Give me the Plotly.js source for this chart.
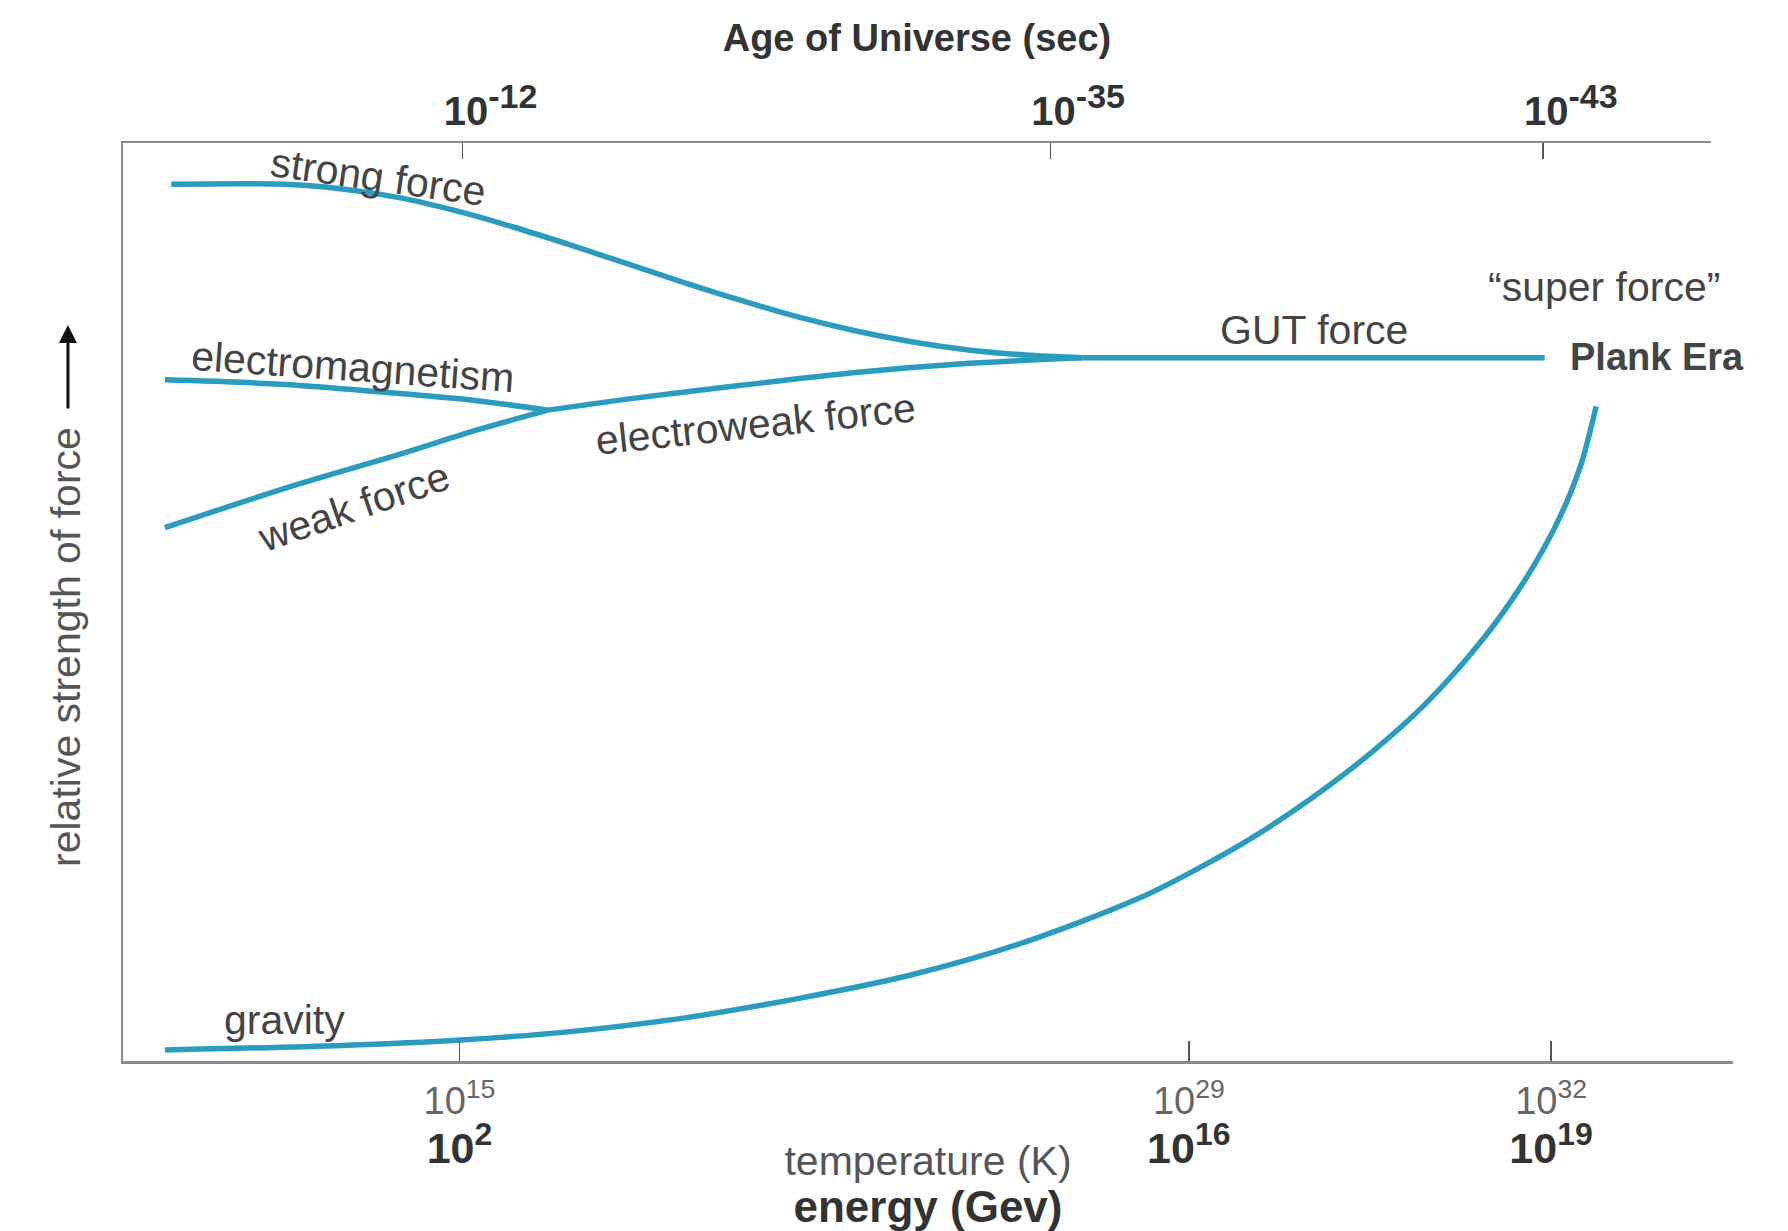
<!DOCTYPE html>
<html>
<head>
<meta charset="utf-8">
<script src="https://cdn.plot.ly/plotly-3.0.1.min.js"></script>
<style>html,body{margin:0;padding:0;background:#fff;}#chart{width:1788px;height:1231px;}</style>
</head>
<body>
<div id="chart"></div>
<script>
// ---- data (schematic units: x 0-100 across the plot, y 0-100 relative strength) ----
const xStrong = [3.0, 10.1, 13.64, 17.17, 20.71, 24.24, 27.78, 31.31, 34.85, 38.39, 41.92, 45.46, 48.99, 52.53, 56.06, 59.6];
const yStrong = [95.5, 95.5, 95.0, 94.05, 92.6, 90.85, 88.9, 86.85, 84.8, 82.85, 81.05, 79.55, 78.35, 77.45, 76.9, 76.6];

const xEM = [2.6, 10.1, 17.2, 22.1, 26.4];
const yEM = [74.2, 73.7, 72.7, 71.9, 70.9];

const xWeak = [2.6, 10.1, 17.2, 22.1, 26.4];
const yWeak = [58.1, 62.4, 66.1, 68.8, 70.9];

const xEW = [26.4, 31.3, 38.4, 45.5, 52.6, 59.6];
const yEW = [70.9, 72.1, 73.6, 75.0, 76.0, 76.6];

const xGUT = [59.6, 88.3];
const yGUT = [76.6, 76.6];

const xGrav = [2.6, 13.6, 21.0, 27.8, 34.9, 41.9, 49.0, 56.1, 63.2, 66.7, 70.3, 73.8, 77.4, 80.9, 84.4, 86.6, 88.3, 89.6, 90.6, 91.5];
const yGrav = [1.2, 1.7, 2.3, 3.2, 4.7, 6.8, 9.4, 13.0, 17.8, 20.9, 24.5, 28.6, 33.4, 38.9, 45.8, 51.1, 56.0, 60.6, 65.2, 71.3];

// bottom axis ticks: temperature (K) and energy (GeV)
const bottomTickPos = [20.9, 66.2, 88.7];
const tempExp = ['15', '29', '32'];
const energyExp = ['2', '16', '19'];

// top axis ticks: age of universe (sec)
const topTickPos = [21.1, 57.6, 88.2];
const ageExp = ['-12', '-35', '-43'];

// curve labels
const labelText = ['strong force', 'electromagnetism', 'weak force', 'electroweak force', 'GUT force', '\u201csuper force\u201d', '<b>Plank Era</b>', 'gravity'];
const labelX = [15.9, 14.3, 14.3, 39.3, 74.0, 92.0, 95.3, 10.0];
const labelY = [96.3, 75.6, 60.4, 69.4, 79.6, 84.3, 76.7, 4.5];
const labelAngle = [8, 4, -19, -6, 0, 0, 0, 0];
const labelSize = [41, 41, 41, 41, 41, 41, 38, 41];

// ---- build ----
const lineColor = '#2a9cbf';
function curve(x, y, name) {
  return {x: x, y: y, name: name, type: 'scatter', mode: 'lines', xaxis: 'x', yaxis: 'y',
          line: {color: lineColor, width: 5.5, shape: 'spline', smoothing: 0.9},
          hoverinfo: 'skip', showlegend: false};
}
const traces = [
  curve(xStrong, yStrong, 'strong force'),
  curve(xEM, yEM, 'electromagnetism'),
  curve(xWeak, yWeak, 'weak force'),
  curve(xEW, yEW, 'electroweak force'),
  curve(xGUT, yGUT, 'GUT force'),
  curve(xGrav, yGrav, 'gravity'),
  {x: [], y: [], type: 'scatter', mode: 'lines', xaxis: 'x2', yaxis: 'y', showlegend: false, hoverinfo: 'skip'}
];

const bottomTickText = tempExp.map((t, i) =>
  '10<sup>' + t + '</sup><br><span style="color:#333;font-size:43px"><b>10<sup><span style="font-size:32px">' + energyExp[i] + '</span></sup></b></span>');
const pad = '\u00A0\u00A0\u00A0\u00A0\u00A0';
const topTickText = ageExp.map(a => pad + '<b>10<sup><span style="font-size:34px">' + a + '</span></sup></b>');

const annotations = labelText.map((t, i) => ({
  text: t, x: labelX[i], y: labelY[i], xref: 'x', yref: 'y', showarrow: false,
  textangle: labelAngle[i], font: {family: 'Liberation Sans, Arial, sans-serif', size: labelSize[i], color: '#444'},
  xanchor: 'center', yanchor: 'middle'
}));
annotations.push({
  text: 'relative strength of force', xref: 'paper', yref: 'paper', x: -0.0354, y: 0.451,
  showarrow: false, textangle: -90, xanchor: 'center', yanchor: 'middle',
  font: {family: 'Liberation Sans, Arial, sans-serif', size: 41, color: '#555'}
});
annotations.push({
  text: '', xref: 'paper', yref: 'paper', x: -0.0342, y: 0.8017, ax: 0, ay: 85,
  showarrow: true, arrowhead: 2, arrowsize: 1.2, arrowwidth: 3, arrowcolor: '#111'
});

const layout = {
  width: 1788, height: 1231,
  margin: {l: 123, r: 55, t: 143, b: 170},
  paper_bgcolor: '#ffffff', plot_bgcolor: 'rgba(0,0,0,0)',
  showlegend: false,
  xaxis: {
    domain: [0, 1], range: [0, 100], anchor: 'y',
    showline: true, linecolor: '#8a8a8a', linewidth: 3, mirror: false,
    showgrid: false, zeroline: false,
    ticks: 'inside', ticklen: 20, tickwidth: 1.5, tickcolor: '#555',
    tickmode: 'array', tickvals: bottomTickPos, ticktext: bottomTickText,
    tickfont: {family: 'Liberation Sans Narrow, Liberation Sans, sans-serif', size: 38, color: '#666'},
    ticklabelstandoff: 4,
    title: {text: '<span style="font-size:41px">temperature (K)</span><br><b><span style="color:#333;font-size:44px">energy (Gev)</span></b>',
            font: {family: 'Liberation Sans, Arial, sans-serif', size: 36, color: '#555'}, standoff: 0},
    fixedrange: true
  },
  xaxis2: {
    domain: [0, 0.98634], range: [0, 98.634], anchor: 'y', side: 'top',
    showline: true, linecolor: '#8a8a8a', linewidth: 2,
    showgrid: false, zeroline: false,
    ticks: 'inside', ticklen: 16, tickwidth: 1.5, tickcolor: '#555',
    tickmode: 'array', tickvals: topTickPos, ticktext: topTickText,
    tickfont: {family: 'Liberation Sans Narrow, Liberation Sans, sans-serif', size: 40, color: '#333'},
    ticklabelstandoff: 0,
    title: {text: '<b>Age of Universe (sec)</b>',
            font: {family: 'Liberation Sans, Arial, sans-serif', size: 38, color: '#333'}, standoff: 14},
    fixedrange: true
  },
  yaxis: {
    domain: [0, 1], range: [0, 100],
    showline: true, linecolor: '#8a8a8a', linewidth: 2,
    showgrid: false, zeroline: false, showticklabels: false, ticks: '',
    fixedrange: true
  },
  annotations: annotations
};

Plotly.newPlot('chart', traces, layout, {displayModeBar: false, staticPlot: true});
</script>
</body>
</html>
